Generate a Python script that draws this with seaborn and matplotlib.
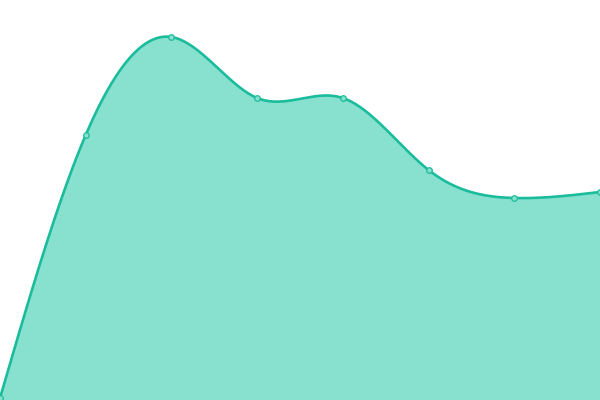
import numpy as np
import pandas as pd
import matplotlib
matplotlib.use("Agg")
import matplotlib.pyplot as plt
import seaborn as sns

# data (value axis 0..400)
categories = list(range(8))
values = [2, 265, 363, 302, 302, 230, 202, 208]

LINE = "#1abc9c"
FILL = "#88e0cf"


def natural_spline(xs, ys, steps=40):
    # natural cubic spline through the points (just for the curve shape)
    x = np.asarray(xs, float)
    y = np.asarray(ys, float)
    n = len(x)
    h = np.diff(x)
    A = np.zeros((n, n))
    r = np.zeros(n)
    A[0, 0] = A[-1, -1] = 1
    for i in range(1, n - 1):
        A[i, i - 1] = h[i - 1]
        A[i, i] = 2 * (h[i - 1] + h[i])
        A[i, i + 1] = h[i]
        r[i] = 6 * ((y[i + 1] - y[i]) / h[i] - (y[i] - y[i - 1]) / h[i - 1])
    M = np.linalg.solve(A, r)
    xo, yo = [x[0]], [y[0]]
    for i in range(n - 1):
        t = np.linspace(x[i], x[i + 1], steps)[1:]
        a = x[i + 1] - t
        b = t - x[i]
        s = (M[i] * a ** 3 + M[i + 1] * b ** 3) / (6 * h[i]) \
            + (y[i] / h[i] - M[i] * h[i] / 6) * a \
            + (y[i + 1] / h[i] - M[i + 1] * h[i] / 6) * b
        xo.extend(t)
        yo.extend(s)
    return np.array(xo), np.array(yo)


sns.set_style("white")
fig = plt.figure(figsize=(6, 4), dpi=100)
ax = fig.add_axes([0, 0, 1, 1])

cx, cy = natural_spline(categories, values)
curve = pd.DataFrame({"x": cx, "y": cy})

ax.fill_between(curve["x"], curve["y"], 0, color=FILL, lw=0, zorder=1)
sns.lineplot(data=curve, x="x", y="y", color=LINE, lw=1.9, sort=False, ax=ax, zorder=2)
pts = pd.DataFrame({"x": categories, "y": values})
sns.scatterplot(data=pts, x="x", y="y", s=16, color=FILL, edgecolor=LINE, linewidth=0.9, ax=ax, zorder=3, clip_on=False)

ax.set_xlim(0, 7)
ax.set_ylim(0, 400)
ax.axis("off")

fig.savefig("out.png", dpi=100)
